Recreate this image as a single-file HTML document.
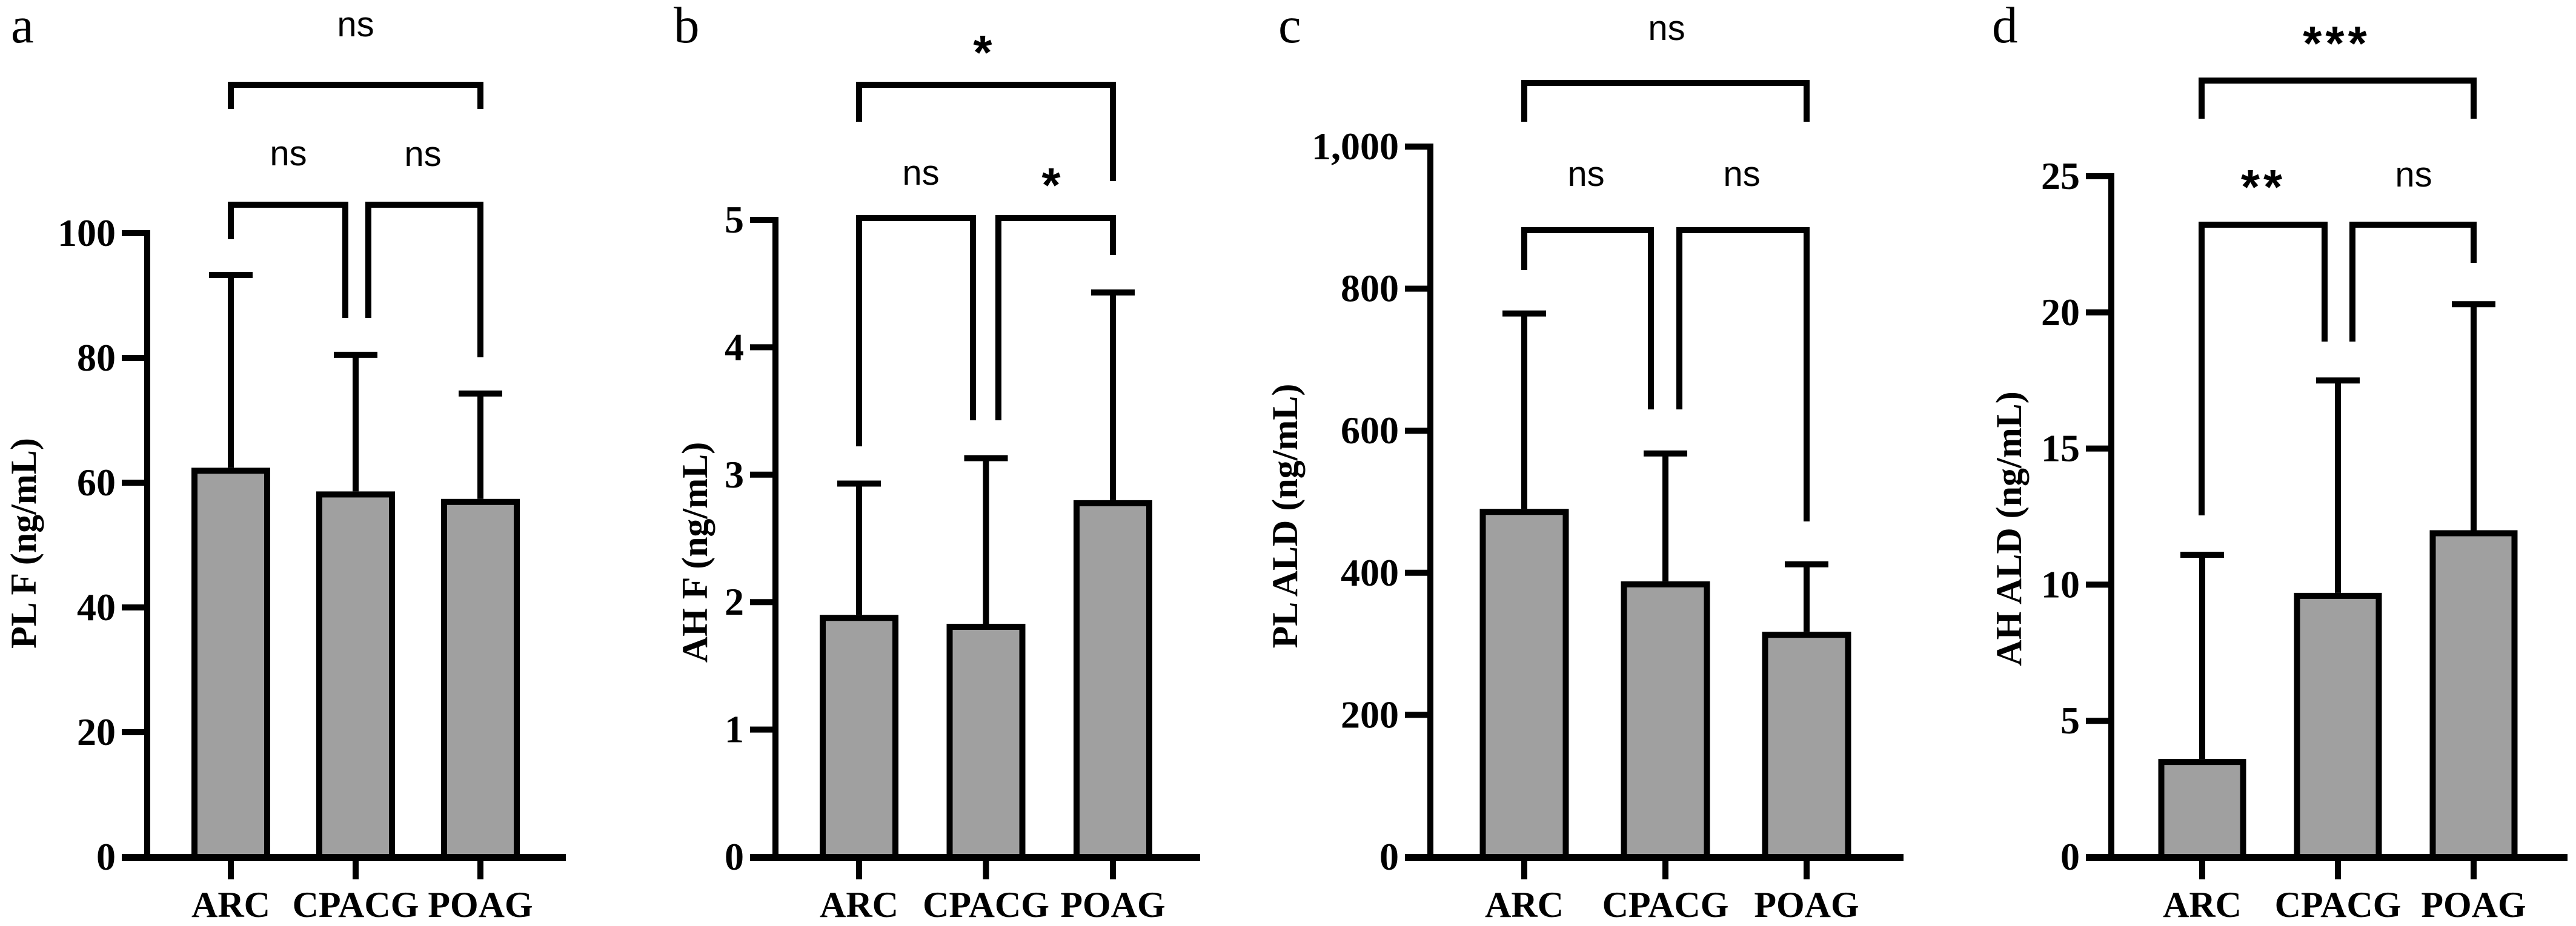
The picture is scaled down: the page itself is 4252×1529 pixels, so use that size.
<!DOCTYPE html>
<html><head><meta charset="utf-8"><style>
html,body{margin:0;padding:0;background:#fff;}
svg{display:block;}
.serif{font-family:"Liberation Serif","DejaVu Serif",serif;}
.sans{font-family:"Liberation Sans","DejaVu Sans",sans-serif;}
</style></head><body>
<svg id="fig" width="4252" height="1529" viewBox="0 0 4252 1529" xmlns="http://www.w3.org/2000/svg"></svg>
<script>
const categories = ["ARC", "CPACG", "POAG"];
const meansA = [62.4, 58.6, 57.4];
const errA = [93.3, 80.5, 74.3];
const ticksA = [0, 20, 40, 60, 80, 100];
const tickLabelsA = ["0", "20", "40", "60", "80", "100"];
const meansB = [1.9, 1.83, 2.8];
const errB = [2.93, 3.13, 4.43];
const ticksB = [0, 1, 2, 3, 4, 5];
const tickLabelsB = ["0", "1", "2", "3", "4", "5"];
const meansC = [490, 388, 317];
const errC = [765, 568, 412];
const ticksC = [0, 200, 400, 600, 800, 1000];
const tickLabelsC = ["0", "200", "400", "600", "800", "1,000"];
const meansD = [3.6, 9.7, 12.0];
const errD = [11.1, 17.5, 20.3];
const ticksD = [0, 5, 10, 15, 20, 25];
const tickLabelsD = ["0", "5", "10", "15", "20", "25"];
const sigA = ["ns", "ns", "ns"];
const sigB = ["*", "ns", "*"];
const sigC = ["ns", "ns", "ns"];
const sigD = ["***", "**", "ns"];

const NS = "http://www.w3.org/2000/svg";
const svg = document.getElementById("fig");
const LW = 10;
function mk(tag, attrs, parent){
  const e = document.createElementNS(NS, tag);
  for (const k in attrs) e.setAttribute(k, attrs[k]);
  (parent || svg).appendChild(e);
  return e;
}
const panels = [
  {id:"a", letter:"a", lx:18, title:"PL F (ng/mL)", tx:39, ty:897, ax:243, y0:1415, yTop:385, max:100, xEnd:934, c0:381, step:206, bw:130,
   means:meansA, errs:errA, ticks:ticksA, tl:tickLabelsA, sig:sigA,
   br:[{x1:381,x2:793,y:140,e1:180,e2:180,lx:587,ly:44},{x1:381,x2:570,y:338,e1:395,e2:525,lx:476,ly:257},{x1:608,x2:793,y:338,e1:525,e2:590,lx:698,ly:258}]},
  {id:"b", letter:"b", lx:1112, title:"AH F (ng/mL)", tx:1147, ty:912, ax:1280, y0:1415, yTop:363, max:5, xEnd:1981, c0:1418, step:209.5, bw:130,
   means:meansB, errs:errB, ticks:ticksB, tl:tickLabelsB, sig:sigB,
   br:[{x1:1418,x2:1837,y:140,e1:201,e2:299,lx:1625,ly:70},{x1:1418,x2:1606,y:360,e1:737,e2:694,lx:1520,ly:289},{x1:1648,x2:1837,y:360,e1:694,e2:421,lx:1738,ly:289}]},
  {id:"c", letter:"c", lx:2110, title:"PL ALD (ng/mL)", tx:2121, ty:852, ax:2361, y0:1415, yTop:242, max:1000, xEnd:3142, c0:2516, step:233, bw:147,
   means:meansC, errs:errC, ticks:ticksC, tl:tickLabelsC, sig:sigC,
   br:[{x1:2516,x2:2982,y:137,e1:201,e2:201,lx:2751,ly:50},{x1:2516,x2:2725,y:380,e1:446,e2:676,lx:2618,ly:291},{x1:2772,x2:2982,y:380,e1:676,e2:861,lx:2875,ly:291}]},
  {id:"d", letter:"d", lx:3288, title:"AH ALD (ng/mL)", tx:3316, ty:873, ax:3485, y0:1415, yTop:291, max:25, xEnd:4238, c0:3635, step:224, bw:145,
   means:meansD, errs:errD, ticks:ticksD, tl:tickLabelsD, sig:sigD,
   br:[{x1:3634,x2:4083,y:133,e1:196,e2:196,lx:3857,ly:55},{x1:3634,x2:3837,y:371,e1:851,e2:564,lx:3736,ly:292},{x1:3883,x2:4083,y:371,e1:564,e2:434,lx:3984,ly:292}]}
];

panels.forEach(p => {
  const g = mk("g", {});
  
  
  const ys = v => p.y0 - v / p.max * (p.y0 - p.yTop);
  const xs = i => p.c0 + i * p.step;

  const L = mk("text", {x:p.lx, y:70, class:"serif", "font-size":85, fill:"#000"}, g);
  L.textContent = p.letter;
  
  

  const T = mk("text", {x:0, y:0, transform:`translate(${p.tx},${p.ty}) rotate(-90)`, "text-anchor":"middle", "dominant-baseline":"central", class:"serif", "font-weight":"bold", "font-size":60, fill:"#000"}, g);
  T.textContent = p.title;
  
  

  p.means.forEach((m, i) => {
    const cx = xs(i);
    const top = ys(m);
    const eb = mk("path", {d:`M${cx},${top} V${ys(p.errs[i])} M${cx-36},${ys(p.errs[i])} H${cx+36}`, stroke:"#000", "stroke-width":LW, fill:"none"}, g);
    
    
    const r = mk("rect", {x:cx - p.bw/2 + LW/2, y:top + LW/2, width:p.bw - LW, height:p.y0 - top - LW/2, fill:"#a0a0a0", stroke:"#000", "stroke-width":LW}, g);
    
    
  });

  const yax = mk("line", {x1:p.ax, x2:p.ax, y1:p.yTop - LW/2, y2:p.y0 + LW/2, stroke:"#000", "stroke-width":LW}, g);
  
  
  const xax = mk("line", {x1:p.ax - 42, x2:p.xEnd, y1:p.y0 + 1, y2:p.y0 + 1, stroke:"#000", "stroke-width":LW + 2}, g);
  
  

  p.ticks.forEach((t, k) => {
    const y = ys(t);
    const tk = mk("line", {x1:p.ax - 42, x2:p.ax, y1:y, y2:y, stroke:"#000", "stroke-width":LW}, g);
    
    
    const tl = mk("text", {x:p.ax - 52, y:y + 21, "text-anchor":"end", class:"serif", "font-weight":"bold", "font-size":64, fill:"#000"}, g);
    tl.textContent = p.tl[k];
    
    
  });

  categories.forEach((c, i) => {
    const cx = xs(i);
    const tk = mk("line", {x1:cx, x2:cx, y1:p.y0, y2:p.y0 + 37, stroke:"#000", "stroke-width":LW}, g);
    
    
    const cl = mk("text", {x:cx, y:1514, "text-anchor":"middle", class:"serif", "font-weight":"bold", "font-size":60, fill:"#000"}, g);
    cl.textContent = c;
    
    
  });

  p.br.forEach((b, k) => {
    const path = mk("path", {d:`M${b.x1},${b.e1} V${b.y} H${b.x2} V${b.e2}`, stroke:"#000", "stroke-width":LW, fill:"none", "stroke-linejoin":"miter"}, g);
    
    
    const s = p.sig[k];
    const isStar = s.indexOf("*") >= 0;
    const t = mk("text", {x:b.lx, y: isStar ? b.ly + 44 : b.ly + 16, "text-anchor":"middle", class:"sans", "font-weight": isStar ? "bold" : "normal", "font-size": isStar ? 80 : 58, fill:"#000", "letter-spacing": isStar ? 6 : 0}, g);
    t.textContent = s;
    
    
  });
});
</script>
</body></html>
